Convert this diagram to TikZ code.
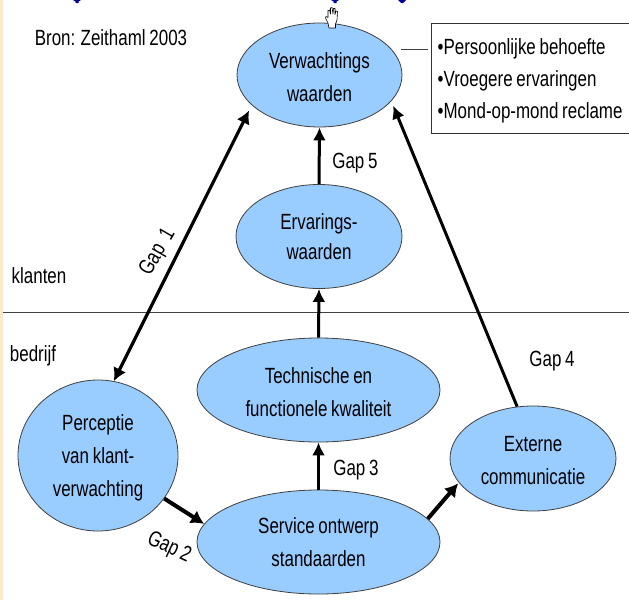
\documentclass[tikz,border=0pt]{standalone}
\usepackage{fontspec}
\setmainfont[FakeStretch=0.77,WordSpace=0.8]{Liberation Sans}
\usetikzlibrary{shapes.geometric,arrows.meta}
\definecolor{ovalblue}{HTML}{99CCFF}
\definecolor{cream}{HTML}{FBEBC8}
\definecolor{titleblue}{HTML}{0000A0}
\newcommand{\dnline}[1]{\raisebox{-2pt}[\height][\depth]{#1}}
\tikzset{
  x=1pt,y=-1pt,
  oval/.style={ellipse,draw=black!75,line width=0.8pt,fill=ovalblue,inner sep=0pt,align=center,
    font=\fontsize{22}{33}\selectfont},
  lbl/.style={inner sep=0pt,font=\fontsize{22}{24}\selectfont},
  conn/.style={line width=3pt,-{Latex[length=13pt,width=13pt]}},
  thick conn/.style={line width=4pt,-{Latex[length=13pt,width=15pt]}},
  both conn/.style={line width=3.2pt,{Latex[length=13pt,width=14pt]}-{Latex[length=13pt,width=14pt]}},
}
\begin{document}
\begin{tikzpicture}
\useasboundingbox (0,0) rectangle (629,600);
\clip (0,0) rectangle (629,600);
\fill[white] (0,0) rectangle (629,600);
\fill[cream] (0,0) rectangle (3,600);
% clipped title remnants
\fill[titleblue] (73,0) -- (81,0) -- (78.5,1.5) -- (78.5,3) -- (75.5,3) -- (75.5,1.5) -- cycle;
\fill[titleblue] (331,0) -- (339,0) -- (336.5,1.5) -- (336.5,3) -- (333.5,3) -- (333.5,1.5) -- cycle;
\fill[titleblue] (398,0) -- (406,0) -- (403,3) -- (401,3) -- cycle;
% divider
\coordinate (divl) at (3,312.7);
\coordinate (divr) at (629,312.7);
\draw[line width=1.3pt,black!75] (divl) -- (divr);
% ovals
\node[oval,minimum width=165pt,minimum height=104pt] (v) at (319.5,75) {\dnline{Verwachtings}\\\dnline{waarden}};
\node[oval,minimum width=166pt,minimum height=104pt,font=\fontsize{22}{30}\selectfont] (e) at (319,236.5) {Ervarings-\\waarden};
\node[oval,minimum width=243pt,minimum height=104pt] (t) at (318.5,390) {\dnline{Technische en}\\\dnline{functionele kwaliteit}};
\node[oval,minimum width=243pt,minimum height=104pt] (s) at (318.5,542) {Service ontwerp\\standaarden};
\node[oval,minimum width=160pt,minimum height=151pt] (p) at (98,455.5) {\dnline{Perceptie}\\\dnline{van klant-}\\\dnline{verwachting}};
\node[oval,minimum width=166pt,minimum height=105pt] (x) at (533,458.5) {\dnline{Externe}\\\dnline{communicatie}};
% box
\node[draw=black!80,line width=0.8pt,fill=white,anchor=north west,minimum width=220pt,minimum height=110pt] (b) at (430.5,23) {};
\node[anchor=west,inner sep=0pt,align=left,font=\fontsize{22}{32}\selectfont] (bt) at ([xshift=7pt,yshift=-2pt]b.west)
  {•Persoonlijke behoefte\\•Vroegere ervaringen\\•Mond-op-mond reclame};
\coordinate (bl) at (428,49);
\coordinate (vr) at (401,49);
\draw[line width=1pt,black!75] (vr) -- (bl);
% connectors
\draw[conn] (e.north) -- (v.south);
\draw[conn] (t.north) -- (e.south);
\draw[conn] (s.north) -- (t.south);
\draw[both conn,shorten >=6pt] (p.78.8) -- (v.204.5);
\draw[conn,shorten >=5pt] (x.107) -- (v.340.6);
\draw[thick conn] (p.-33.2) -- (s.171.7);
\draw[thick conn,shorten >=1pt] (s.12.3) -- (x.198);
% labels
\node[lbl] (bron) at (111,38) {Bron: Zeithaml 2003};
\node[lbl] (kl) at (39,276) {klanten};
\node[lbl] (be) at (33,356) {bedrijf};
\node[lbl] (g5) at (355,163) {Gap 5};
\node[lbl] (g3) at (356,470) {Gap 3};
\node[lbl] (g4) at (552,361) {Gap 4};
\node[lbl,rotate=-25] (g2) at (169,548) {Gap 2};
\node[lbl,rotate=60] (g1) at (158,252) {Gap\hspace{5pt} 1};
% hand cursor
\draw[fill=white,draw=black,line width=0.6pt,line join=round]
  (329,28) -- (328,23) -- (325.5,18) -- (326,16.5) -- (328,17.5) -- (328,10.5) -- (329.5,10) -- (330.5,14)
  -- (330.5,8) -- (332,7.5) -- (333,14) -- (333.5,8.5) -- (335,8.5) -- (335,14.5) -- (336,11) -- (337.5,11.5)
  -- (337,20) -- (335.5,24) -- (335.5,28) -- cycle;
\end{tikzpicture}
\end{document}
